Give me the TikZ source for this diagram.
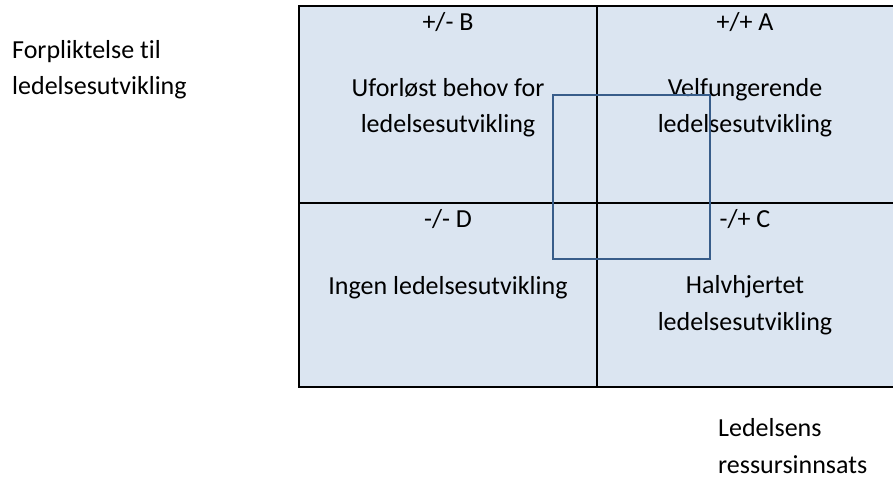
\documentclass[tikz,border=0pt]{standalone}
\usepackage{fontspec}
\setmainfont{Carlito}[Ligatures=NoCommon]
\usetikzlibrary{positioning}
\definecolor{cellfill}{HTML}{DBE5F1}
\definecolor{markblue}{HTML}{385D8A}

\begin{document}
\begin{tikzpicture}[x=1pt, y=-1pt,
    txt/.style={font=\fontsize{26}{36.5}\selectfont, inner sep=0pt, align=center, anchor=base},
    sidetxt/.style={txt, align=left, anchor=base west},
    grid/.style={line width=2pt}]
  \useasboundingbox (0,0) rectangle (893,478);

  % matrix cells
  \fill[cellfill] (299,6) rectangle (894,387);
  \draw[grid] (299,6) rectangle (894,387);
  \draw[grid] (597,6) -- (597,387) (299,203) -- (894,203);

  % quadrant labels
  \node (b) [txt] at (448,31) {+/- B};
  \node (a) [txt] at (745,31) {+/+ A};
  \node (d) [txt] at (448,228) {-/- D};
  \node (c) [txt] at (745,228) {-/+ C};

  % quadrant texts (placed at last baseline)
  \node (bt) [txt] at (448,133) {Uforløst behov for\\ledelsesutvikling};
  \node (at) [txt] at (745,133) {Velfungerende\\ledelsesutvikling};
  \node (dt) [txt] at (448,294) {Ingen ledelsesutvikling};
  \node (ct) [txt] at (745,330) {Halvhjertet\\ledelsesutvikling};

  % axis texts
  \node (yaxis) [sidetxt] at (12,95) {Forpliktelse til\\ledelsesutvikling};
  \node (xaxis) [sidetxt] at (718,473) {Ledelsens\\ressursinnsats};

  \draw[markblue, line width=1.5pt] (553,95) rectangle (710,259);
\end{tikzpicture}
\end{document}
